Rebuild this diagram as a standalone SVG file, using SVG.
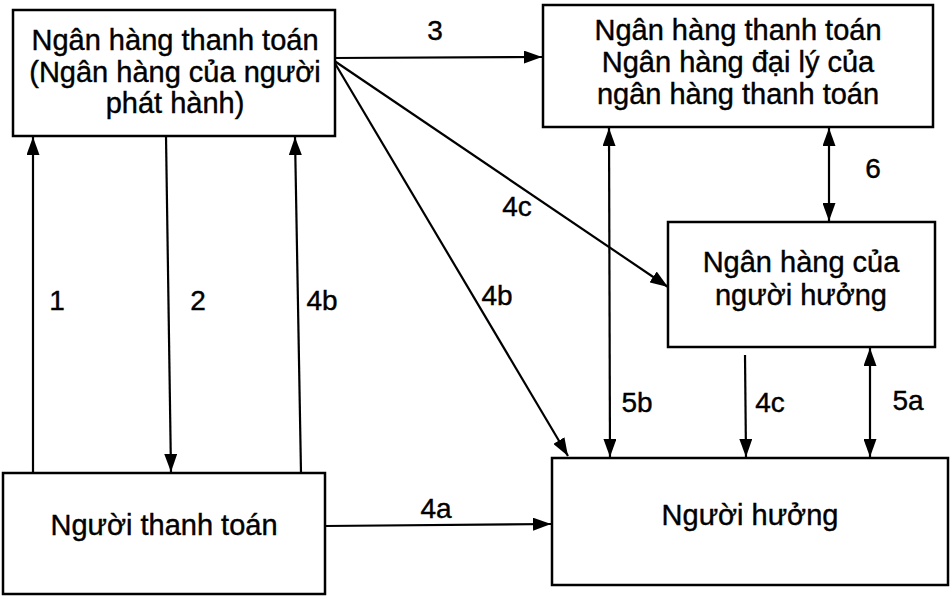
<svg xmlns="http://www.w3.org/2000/svg" width="952" height="597" viewBox="0 0 952 597">
  <style>
    .box { fill: #fff; stroke: #000; stroke-width: 2.5; }
    .txt { font-family: "Liberation Sans", Arial, sans-serif; font-size: 29px; fill: #000; stroke: #000; stroke-width: 0.4; text-anchor: middle; }
    .lbl { font-family: "Liberation Sans", Arial, sans-serif; font-size: 28px; fill: #000; stroke: #000; stroke-width: 0.4; text-anchor: middle; }
    .ln { stroke: #000; stroke-width: 2.2; fill: none; }
  </style>
  <defs>
    <marker id="ah" viewBox="0 0 18 13" refX="18" refY="6.5" markerWidth="18" markerHeight="13" markerUnits="userSpaceOnUse" orient="auto-start-reverse">
      <path d="M0,0 L18,6.5 L0,13 Z" fill="#000"/>
    </marker>
  </defs>
  <rect width="952" height="597" fill="#fff"/>

  <g id="connectors">
    <line class="ln" x1="33" y1="473" x2="33" y2="137" marker-end="url(#ah)"/>
    <line class="ln" x1="166" y1="136" x2="171" y2="472" marker-end="url(#ah)"/>
    <line class="ln" x1="301" y1="473" x2="295" y2="137" marker-end="url(#ah)"/>
    <line class="ln" x1="333" y1="58" x2="542" y2="57" marker-end="url(#ah)"/>
    <line class="ln" x1="333" y1="60" x2="668" y2="287" marker-end="url(#ah)"/>
    <line class="ln" x1="333" y1="60" x2="568" y2="456" marker-end="url(#ah)"/>
    <line class="ln" x1="609" y1="128" x2="610" y2="457" marker-start="url(#ah)" marker-end="url(#ah)"/>
    <line class="ln" x1="829" y1="128" x2="829" y2="221" marker-start="url(#ah)" marker-end="url(#ah)"/>
    <line class="ln" x1="745" y1="355" x2="746" y2="457" marker-end="url(#ah)"/>
    <line class="ln" x1="870" y1="348" x2="870" y2="457" marker-start="url(#ah)" marker-end="url(#ah)"/>
    <line class="ln" x1="325" y1="526" x2="551" y2="524" marker-end="url(#ah)"/>
    <text class="lbl" x="57" y="310">1</text>
    <text class="lbl" x="198" y="310">2</text>
    <text class="lbl" x="322" y="310">4b</text>
    <text class="lbl" x="435" y="40">3</text>
    <text class="lbl" x="517" y="216">4c</text>
    <text class="lbl" x="497" y="305">4b</text>
    <text class="lbl" x="637" y="412">5b</text>
    <text class="lbl" x="770" y="412">4c</text>
    <text class="lbl" x="908" y="410">5a</text>
    <text class="lbl" x="873" y="178">6</text>
    <text class="lbl" x="436" y="518">4a</text>
  </g>

  <g id="issuer-bank">
    <rect class="box" x="13" y="10" width="322" height="126"/>
    <text class="txt" x="175" y="50">Ngân hàng thanh toán</text>
    <text class="txt" x="175" y="82">(Ngân hàng của người</text>
    <text class="txt" x="175" y="113">phát hành)</text>
  </g>

  <g id="agent-bank">
    <rect class="box" x="543" y="5" width="390" height="122"/>
    <text class="txt" x="738" y="40">Ngân hàng thanh toán</text>
    <text class="txt" x="738" y="72">Ngân hàng đại lý của</text>
    <text class="txt" x="738" y="104">ngân hàng thanh toán</text>
  </g>

  <g id="payee-bank">
    <rect class="box" x="668" y="222" width="267" height="125"/>
    <text class="txt" x="801" y="272">Ngân hàng của</text>
    <text class="txt" x="801" y="305">người hưởng</text>
  </g>

  <g id="payer">
    <rect class="box" x="3" y="473" width="322" height="121"/>
    <text class="txt" x="164" y="535">Người thanh toán</text>
  </g>

  <g id="payee">
    <rect class="box" x="552" y="458" width="396" height="127"/>
    <text class="txt" x="750" y="525">Người hưởng</text>
  </g>
</svg>
